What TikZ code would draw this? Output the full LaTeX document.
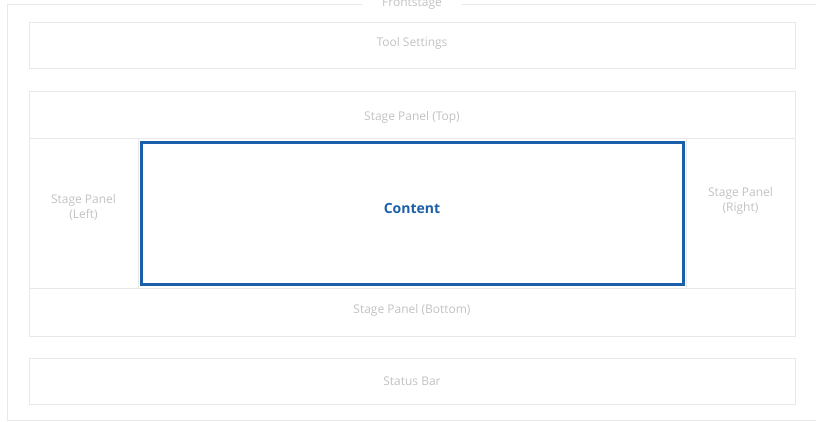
\documentclass[tikz,border=0pt]{standalone}
\usepackage{fontspec}
\setmainfont{Open Sans}
\definecolor{panelline}{HTML}{E8E8E8}
\definecolor{paneltext}{HTML}{C2C2C2}
\definecolor{contentblue}{HTML}{1B5FAA}
\tikzset{panelnode/.style={rectangle, draw=panelline, line width=0.8pt, inner sep=0pt}}
\tikzset{panellabel/.style={text=paneltext, font=\fontsize{12}{15}\selectfont, align=center, inner sep=1pt}}
\tikzset{contentnode/.style={rectangle, draw=contentblue, line width=3pt, inner sep=0pt}}

\begin{document}
\begin{tikzpicture}[x=1pt, y=-1pt]
		\useasboundingbox (0,0) rectangle (816,422);

		%frontstage frame
		\draw[panelline, line width=0.8pt] (7,4) rectangle (816.5,420);
		\node[panellabel, fill=white, inner xsep=20pt, inner ysep=2pt] (front) at (412,3.5) {Frontstage};

		%panels
		\node[panelnode, minimum width=766pt, minimum height=46pt] (tool) at (412,45) {};
		\node[panelnode, minimum width=766pt, minimum height=47pt] (top) at (412,114.5) {};
		\node[panelnode, minimum width=109pt, minimum height=150pt] (left) at (83.5,213) {};
		\node[panelnode, minimum width=109pt, minimum height=150pt] (right) at (740.5,213) {};
		\node[panelnode, minimum width=766pt, minimum height=48pt] (bottom) at (412,312) {};
		\node[panelnode, minimum width=766pt, minimum height=46pt] (status) at (412,381) {};

		%panel texts
		\node[panellabel] (tooltext) at ([yshift=2pt]tool.center) {Tool Settings};
		\node[panellabel] (toptext) at ([yshift=-2.5pt]top.center) {Stage Panel (Top)};
		\node[panellabel] (lefttext) at ([yshift=6pt]left.center) {Stage Panel\\(Left)};
		\node[panellabel] (righttext) at ([yshift=12pt]right.center) {Stage Panel\\(Right)};
		\node[panellabel] (bottomtext) at ([yshift=1.5pt]bottom.center) {Stage Panel (Bottom)};
		\node[panellabel] (statustext) at (status.center) {Status Bar};

		%content
		\node[contentnode, minimum width=542pt, minimum height=141pt] (content) at (412,213.5) {};
		\node[text=contentblue, font=\fontsize{14}{17}\selectfont\bfseries] (contenttext) at ([yshift=5pt]content.center) {Content};

	\end{tikzpicture}
\end{document}
